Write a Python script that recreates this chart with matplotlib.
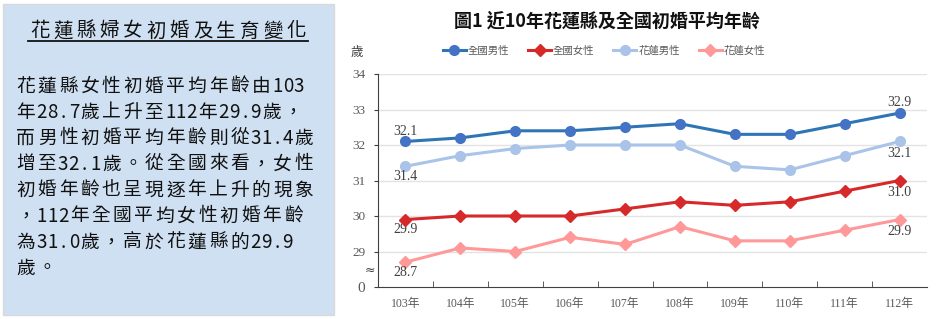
import matplotlib.pyplot as plt
from matplotlib.patches import Rectangle
from matplotlib.lines import Line2D

plt.rcParams['font.family'] = ['Noto Sans CJK TC', 'DejaVu Sans']

years = ['103年', '104年', '105年', '106年', '107年', '108年', '109年', '110年', '111年', '112年']
nat_male = [32.1, 32.2, 32.4, 32.4, 32.5, 32.6, 32.3, 32.3, 32.6, 32.9]
nat_female = [29.9, 30.0, 30.0, 30.0, 30.2, 30.4, 30.3, 30.4, 30.7, 31.0]
hl_male = [31.4, 31.7, 31.9, 32.0, 32.0, 32.0, 31.4, 31.3, 31.7, 32.1]
hl_female = [28.7, 29.1, 29.0, 29.4, 29.2, 29.7, 29.3, 29.3, 29.6, 29.9]

panel_title = '花蓮縣婦女初婚及生育變化'
panel_lines = [
    '花蓮縣女性初婚平均年齡由103',
    '年28.7歲上升至112年29.9歲，',
    '而男性初婚平均年齡則從31.4歲',
    '增至32.1歲。從全國來看，女性',
    '初婚年齡也呈現逐年上升的現象',
    '，112年全國平均女性初婚年齡',
    '為31.0歲，高於花蓮縣的29.9',
    '歲。',
]

W, H = 944, 319
fig = plt.figure(figsize=(W / 100, H / 100), dpi=100)


def grid_text(s, x0, y, pitch, size):
    # lay characters out on a fixed grid (full width for CJK, half for ASCII)
    xc = x0
    for ch in s:
        w = pitch / 2 if ord(ch) < 128 else pitch
        fig.text((xc + w / 2) / W, 1 - y / H, ch, fontsize=size, ha='center', va='center', color='#111111')
        xc += w


# left text panel
fig.patches.append(Rectangle((3 / W, 4 / H), 331 / W, 311 / H, transform=fig.transFigure,
                             facecolor='#cfe0f2', edgecolor='#d9d9d9', lw=1))
grid_text(panel_title, 28, 31, 23.3, 14)
fig.add_artist(Line2D([28 / W, 308 / W], [1 - 41 / H, 1 - 41 / H], color='#111111', lw=1.3))
for i, line in enumerate(panel_lines):
    grid_text(line, 15, 86 + i * 26, 21.4, 13.5)

# chart
ax = fig.add_axes([378 / W, 32 / H, 549 / W, 213 / H])
x = range(len(years))
ax.plot(x, nat_male, color='#2E75B6', lw=2.2, marker='o', ms=7, mfc='#4472C4', mec='#4472C4', label='全國男性', zorder=4)
ax.plot(x, nat_female, color='#D62A2A', lw=2.2, marker='D', ms=6, mfc='#D62A2A', mec='#D62A2A', label='全國女性', zorder=4)
ax.plot(x, hl_male, color='#A9C4E8', lw=2.2, marker='o', ms=7, mfc='#A9C4E8', mec='#A9C4E8', label='花蓮男性', zorder=3)
ax.plot(x, hl_female, color='#FF9999', lw=2.2, marker='D', ms=6, mfc='#FF9999', mec='#FF9999', label='花蓮女性', zorder=3)

ax.set_xlim(-0.5, len(years) - 0.5)
ax.set_ylim(28, 34)
ax.set_yticks([28, 29, 30, 31, 32, 33, 34])
ax.set_yticklabels(['0', '29', '30', '31', '32', '33', '34'], family='Liberation Serif', fontsize=9.5, color='#595959')
ax.get_yticklabels()[0].set_fontsize(11)
ax.set_xticks(list(x))
ax.set_xticklabels(years, family=['Liberation Serif', 'Noto Sans CJK TC'], fontsize=8.5, color='#595959')
ax.tick_params(axis='x', length=0, pad=8)
ax.set_xticks([i + 0.5 for i in range(len(years) - 1)], minor=True)
ax.tick_params(axis='x', which='minor', direction='in', length=4, color='#404040')
ax.tick_params(axis='y', length=3, color='#404040', pad=6)
for yv in [29, 30, 31, 32, 33, 34]:
    ax.axhline(yv, color='#e3e3e3', lw=1, zorder=0)
for s in ['top', 'right']:
    ax.spines[s].set_visible(False)
for s in ['left', 'bottom']:
    ax.spines[s].set_color('#404040')
ax.text(-0.55, 28.48, '≈', fontsize=9, ha='right', va='center', color='#404040', family='DejaVu Sans')

lbl = dict(family='Liberation Serif', fontsize=10, color='#404040', ha='center', va='center')
ax.text(0, nat_male[0] + 0.28, f'{nat_male[0]:.1f}', **lbl)
ax.text(0, hl_male[0] - 0.28, f'{hl_male[0]:.1f}', **lbl)
ax.text(0, nat_female[0] - 0.28, f'{nat_female[0]:.1f}', **lbl)
ax.text(0, hl_female[0] - 0.28, f'{hl_female[0]:.1f}', **lbl)
ax.text(9, nat_male[-1] + 0.3, f'{nat_male[-1]:.1f}', **lbl)
ax.text(9, hl_male[-1] - 0.33, f'{hl_male[-1]:.1f}', **lbl)
ax.text(9, nat_female[-1] - 0.33, f'{nat_female[-1]:.1f}', **lbl)
ax.text(9, hl_female[-1] - 0.33, f'{hl_female[-1]:.1f}', **lbl)

fig.text(607 / W, 1 - 21 / H, '圖1 近10年花蓮縣及全國初婚平均年齡', fontsize=13, fontweight='bold',
         ha='center', va='center', color='#111111')
fig.text(357 / W, 1 - 52 / H, '歲', fontsize=9, ha='center', va='center', color='#404040')
fig.legend(loc='center', bbox_to_anchor=(604 / W, 1 - 51 / H), ncol=4, frameon=False, fontsize=7.5,
           handlelength=2.2, columnspacing=1.8, handletextpad=0.2, labelcolor='#595959')

fig.savefig('out.png', dpi=100, facecolor='white')
